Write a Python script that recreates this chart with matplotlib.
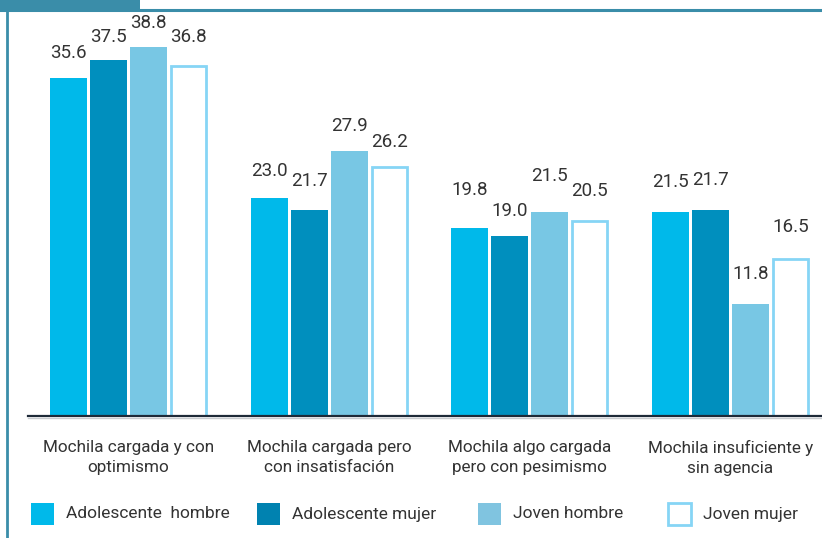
import numpy as np
import matplotlib.pyplot as plt
from matplotlib.patches import Rectangle
from matplotlib.lines import Line2D

plt.rcParams['font.family'] = ['Roboto', 'DejaVu Sans']

# =========================
# datos
# =========================
categorias = [
    "Mochila cargada y con\noptimismo",
    "Mochila cargada pero\ncon insatisfación",
    "Mochila algo cargada\npero con pesimismo",
    "Mochila insuficiente y\nsin agencia",
]
series = ["Adolescente  hombre", "Adolescente mujer", "Joven hombre", "Joven mujer"]

adol_hombre = [35.6, 23.0, 19.8, 21.5]
adol_mujer = [37.5, 21.7, 19.0, 21.7]
joven_hombre = [38.8, 27.9, 21.5, 11.8]
joven_mujer = [36.8, 26.2, 20.5, 16.5]

valores = [adol_hombre, adol_mujer, joven_hombre, joven_mujer]

# =========================
# estilo
# =========================
colores = ["#00B9EA", "#008FBE", "#78C7E4", "white"]
bordes = ["#00B9EA", "#008FBE", "#78C7E4", "#86D5F5"]
ley_colores = ["#00B9EA", "#0082B0", "#80C4E0", "white"]
texto = "#333333"
teal = "#3A8DA9"

# separacion etiqueta-barra (pixeles) por serie y grupo
desfase = [[25, 26, 38, 30],
           [23, 29, 24, 30],
           [24, 25, 36, 30],
           [29, 25, 30, 32]]

W, H = 822, 538
fig = plt.figure(figsize=(W / 100, H / 100), dpi=100)
fig.patch.set_facecolor("white")

ax = fig.add_axes([28 / W, (H - 416) / H, (W - 28) / W, 404 / H])
ax.set_xlim(-0.5008, 3.456)
ax.set_ylim(0, 404 / 9.5)

x = np.arange(len(categorias))
paso = 40 / 200.67
ancho = 37 / 200.67

for i, vals in enumerate(valores):
    pos = x + (i - 1.5) * paso
    if i == 3:
        ax.bar(pos, vals, width=ancho - 2 / 200.67, color=colores[i],
               edgecolor=bordes[i], linewidth=2)
    else:
        ax.bar(pos, vals, width=ancho, color=colores[i], linewidth=0)
    for j, (p, v) in enumerate(zip(pos, vals)):
        ax.annotate(f"{v:.1f}", (p, v), xytext=(0, desfase[i][j]),
                    textcoords="offset pixels", ha="center", va="center",
                    fontsize=13.5, color=texto)

for s in ["top", "right", "left"]:
    ax.spines[s].set_visible(False)
ax.spines["bottom"].set_color("#1E2A38")
ax.spines["bottom"].set_linewidth(1.6)
ax.set_yticks([])
ax.set_xticks(x)
ax.set_xticklabels(categorias, fontsize=12.3, color=texto, linespacing=1.45)
ax.tick_params(axis="x", length=0, pad=17)

# sombra gris bajo el eje
fig.add_artist(Line2D([28 / W, 1], [(H - 418) / H] * 2, color="#C8CCD0", lw=1))

# =========================
# cabecera y marco
# =========================
fig.add_artist(Rectangle((0, (H - 10) / H), 140 / W, 10 / H, facecolor=teal,
                         edgecolor="none", transform=fig.transFigure, zorder=5))
fig.add_artist(Line2D([0, 1], [(H - 10) / H] * 2, color=teal, lw=2.2))
fig.add_artist(Line2D([6.8 / W] * 2, [0, (H - 10) / H], color=teal, lw=2))

# =========================
# leyenda
# =========================
ley_x = [31, 257, 478, 668]
for k, nombre in enumerate(series):
    lw = 2 if k == 3 else 0
    fig.add_artist(Rectangle((ley_x[k] / W, (H - 525) / H), 23 / W, 22 / H,
                             facecolor=ley_colores[k], edgecolor=bordes[3] if k == 3 else ley_colores[k],
                             linewidth=lw, transform=fig.transFigure))
    fig.text((ley_x[k] + 35) / W, (H - 514) / H, nombre, fontsize=12.5,
             color=texto, va="center", ha="left")

fig.savefig("out.png", dpi=100)
